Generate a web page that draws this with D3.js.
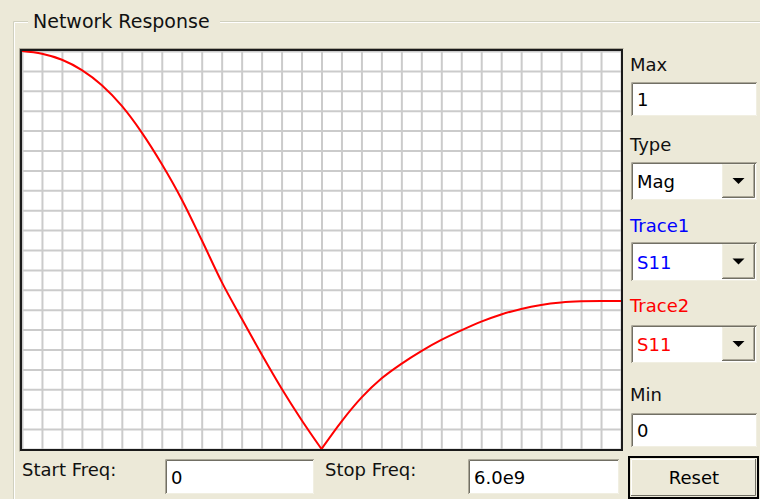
<!DOCTYPE html>
<html>
<head>
<meta charset="utf-8">
<script src="https://cdn.jsdelivr.net/npm/d3@7"></script>
<style>
  body { margin: 0; background: #ECE9D8; }
  svg { display: block; font-family: "DejaVu Sans", sans-serif; }
</style>
</head>
<body>
<svg id="NetworkResponse"></svg>
<script>
// frequency samples (GHz) and |S11| of Trace2
var freqGHz = [0, 0.2, 0.4, 0.6, 0.8, 1.0, 1.2, 1.4, 1.6, 1.8, 2.0, 2.2, 2.4, 2.6, 2.8, 3.0,
               3.2, 3.4, 3.6, 3.8, 4.0, 4.2, 4.4, 4.6, 4.8, 5.0, 5.2, 5.4, 5.6, 5.8, 6.0]
var trace2Mag = [1.000, 0.993, 0.978, 0.952, 0.914, 0.862, 0.795, 0.716, 0.627, 0.525, 0.420,
                 0.328, 0.238, 0.152, 0.073, 0.000, 0.069, 0.129, 0.177, 0.214, 0.246, 0.274,
                 0.298, 0.320, 0.338, 0.352, 0.362, 0.368, 0.371, 0.372, 0.372]

var startFreq = 0
var stopFreq = 6.0e9
var maxVal = 1
var minVal = 0
var xDivisions = 30
var yDivisions = 20

var labels = {title: "Network Response", max: "Max", type: "Type", trace1: "Trace1",
              trace2: "Trace2", min: "Min", start: "Start Freq:", stop: "Stop Freq:", reset: "Reset"}
var fieldValues = {max: "1", type: "Mag", trace1: "S11", trace2: "S11", min: "0", start: "0", stop: "6.0e9"}

var dimensions = {
    width: 760,
    height: 499,
    plot: {left: 22, right: 621, top: 51, bottom: 449}
}

var svg = d3.select("#NetworkResponse")
            .attr("width", dimensions.width)
            .attr("height", dimensions.height)

// group box frame
var frame = svg.append("g")
frame.append("path").attr("d", "M13.5,499 V21.5 H760").attr("fill", "none").attr("stroke", "#D0D0BF")
frame.append("path").attr("d", "M14.5,499 V22.5 H760").attr("fill", "none").attr("stroke", "#ffffff")
frame.append("rect").attr("x", 28).attr("y", 10).attr("width", 192).attr("height", 22).attr("fill", "#ECE9D8")
frame.append("text").text(labels.title)
     .attr("x", 33).attr("y", 27.5)
     .attr("fill", "#111").style("font-size", "19px")

// plot area
var p = dimensions.plot
var xScale = d3.scaleLinear()
               .domain([startFreq, stopFreq])
               .range([p.left, p.right])
var yScale = d3.scaleLinear()
               .domain([minVal, maxVal])
               .range([p.bottom, p.top])

svg.append("rect")
   .attr("x", p.left).attr("y", p.top)
   .attr("width", p.right - p.left).attr("height", p.bottom - p.top)
   .attr("fill", "#ffffff")

var xGrid = d3.axisBottom(xScale).ticks(xDivisions).tickSize(-(p.bottom - p.top)).tickFormat("")
var yGrid = d3.axisLeft(yScale).ticks(yDivisions).tickSize(-(p.right - p.left)).tickFormat("")

svg.append("g")
   .attr("transform", `translate(0,${p.bottom})`)
   .call(xGrid)
   .call(g => g.select(".domain").remove())
   .call(g => g.selectAll("line").attr("stroke", "#cbcbcb").attr("stroke-width", 2))
svg.append("g")
   .attr("transform", `translate(${p.left},0)`)
   .call(yGrid)
   .call(g => g.select(".domain").remove())
   .call(g => g.selectAll("line").attr("stroke", "#cbcbcb").attr("stroke-width", 2))

var dataset = freqGHz.map((f, i) => ({freq: f * 1e9, mag: trace2Mag[i]}))

// split at the null so the notch keeps its sharp corner
var nullIndex = d3.minIndex(dataset, d => d.mag)
var segments = [dataset.slice(0, nullIndex + 1), dataset.slice(nullIndex)]

var line = d3.line()
             .x(d => xScale(d.freq))
             .y(d => yScale(d.mag))
             .curve(d3.curveMonotoneX)

svg.append("g")
   .selectAll("path")
   .data(segments)
   .enter()
   .append("path")
   .attr("d", d => line(d))
   .attr("fill", "none")
   .attr("stroke", "#ff0000")
   .attr("stroke-width", 2)

// sunken border round the plot
svg.append("rect")
   .attr("x", p.left - 1).attr("y", p.top - 1)
   .attr("width", p.right - p.left + 2).attr("height", p.bottom - p.top + 2)
   .attr("fill", "none").attr("stroke", "#1a1a1a").attr("stroke-width", 2)
svg.append("path")
   .attr("d", `M${p.left - 2.5},${p.bottom + 2.5} V${p.top - 2.5} H${p.right + 2.5}`)
   .attr("fill", "none").attr("stroke", "#aca899")

// controls
function label(text, x, y, color) {
    svg.append("text").text(text)
       .attr("x", x).attr("y", y)
       .attr("fill", color || "#111")
       .style("font-size", "18px")
}

function textBox(x, y, w, h, value, color) {
    var g = svg.append("g").attr("transform", `translate(${x},${y})`)
    g.append("rect").attr("width", w).attr("height", h).attr("fill", "#ffffff")
    g.append("path").attr("d", `M0.5,${h} V0.5 H${w}`).attr("fill", "none").attr("stroke", "#aca899")
    g.append("path").attr("d", `M1.5,${h - 1} V1.5 H${w - 1}`).attr("fill", "none").attr("stroke", "#716f64")
    g.append("path").attr("d", `M1,${h - 0.5} H${w - 0.5} V1`).attr("fill", "none").attr("stroke", "#f1efe2")
    g.append("text").text(value)
     .attr("x", 6).attr("y", h / 2 + 7)
     .attr("fill", color || "#000")
     .style("font-size", "18px")
    return g
}

function comboBox(x, y, w, h, value, color) {
    var g = textBox(x, y, w, h, value, color)
    var bw = 33
    var bx = w - bw - 2
    g.append("rect").attr("x", bx).attr("y", 2).attr("width", bw).attr("height", h - 4).attr("fill", "#ECE9D8")
    g.append("path").attr("d", `M${bx + 0.5},${h - 2} V2.5 H${bx + bw}`).attr("fill", "none").attr("stroke", "#f1efe2")
    g.append("path").attr("d", `M${bx},${h - 2.5} H${bx + bw - 0.5} V2`).attr("fill", "none").attr("stroke", "#716f64")
    g.append("path").attr("d", `M${bx + 1},${h - 3.5} H${bx + bw - 1.5} V3`).attr("fill", "none").attr("stroke", "#aca899")
    var cx = bx + bw / 2, cy = h / 2
    g.append("path").attr("d", `M${cx - 6},${cy - 3} H${cx + 6} L${cx},${cy + 3} Z`).attr("fill", "#000")
}

label(labels.max, 630, 71)
textBox(631, 82, 126, 34, fieldValues.max)
label(labels.type, 630, 151)
comboBox(631, 162, 126, 38, fieldValues.type)
label(labels.trace1, 630, 232, "#0000ff")
comboBox(631, 242, 126, 39, fieldValues.trace1, "#0000ff")
label(labels.trace2, 630, 312, "#ff0000")
comboBox(631, 325, 126, 38, fieldValues.trace2, "#ff0000")
label(labels.min, 630, 401)
textBox(631, 413, 126, 34, fieldValues.min)

label(labels.start, 22, 476)
textBox(165, 459, 149, 35, fieldValues.start)
label(labels.stop, 325, 476)
textBox(468, 459, 151, 35, fieldValues.stop)

// default push button
var btn = svg.append("g").attr("transform", "translate(628,456)")
btn.append("rect").attr("x", 1).attr("y", 1).attr("width", 129).attr("height", 41)
   .attr("fill", "#ECE9D8").attr("stroke", "#000").attr("stroke-width", 2)
btn.append("path").attr("d", "M3.5,40 V3.5 H128").attr("fill", "none").attr("stroke", "#ffffff")
btn.append("path").attr("d", "M3,39.5 H127.5 V3").attr("fill", "none").attr("stroke", "#716f64")
btn.append("text").text(labels.reset)
   .attr("x", 66).attr("y", 28)
   .attr("text-anchor", "middle")
   .attr("fill", "#000")
   .style("font-size", "18px")
</script>
</body>
</html>
